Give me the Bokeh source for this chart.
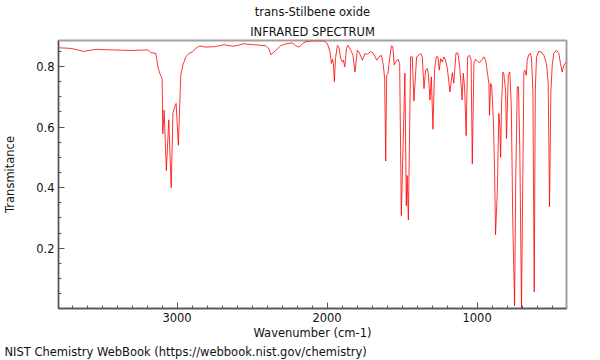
from bokeh.plotting import figure
from bokeh.models import Range1d, FixedTicker, Title
from bokeh.embed import file_html
from bokeh.resources import INLINE

title_name = "trans-Stilbene oxide"
title_kind = "INFRARED SPECTRUM"
x_label = "Wavenumber (cm-1)"
y_label = "Transmitance"
footer = "NIST Chemistry WebBook (https://webbook.nist.gov/chemistry)"

x_major = [1000, 2000, 3000]
y_major = [0.2, 0.4, 0.6, 0.8]

wavenumber = [
    3790, 3707, 3621, 3541, 3441, 3308, 3194, 3174, 3141, 3128,
    3115, 3099, 3095, 3086, 3071, 3055, 3039, 3027, 3011, 3006,
    2991, 2975, 2961, 2941, 2921, 2895, 2871, 2848, 2808, 2742,
    2688, 2622, 2555, 2489, 2409, 2389, 2375, 2342, 2309, 2275,
    2232, 2209, 2187, 2164, 2142, 2109, 2056, 2016, 1998, 1980,
    1971, 1964, 1958, 1951, 1944, 1931, 1920, 1909, 1898, 1891,
    1882, 1871, 1860, 1842, 1827, 1814, 1798, 1787, 1765, 1747,
    1731, 1709, 1691, 1669, 1654, 1638, 1625, 1616, 1609, 1603,
    1594, 1583, 1571, 1561, 1553, 1543, 1527, 1516, 1505, 1481,
    1472, 1466, 1458, 1443, 1432, 1421, 1403, 1388, 1376, 1365,
    1354, 1343, 1332, 1325, 1314, 1305, 1294, 1283, 1272, 1261,
    1252, 1243, 1232, 1221, 1210, 1198, 1181, 1165, 1155, 1141,
    1128, 1117, 1108, 1100, 1092, 1083, 1073, 1063, 1050, 1040,
    1032, 1021, 1010, 995, 983, 970, 955, 943, 932, 921,
    917, 910, 903, 892, 883, 877, 865, 855, 848, 843,
    837, 828, 822, 810, 804, 792, 782, 772, 762, 750,
    742, 732, 724, 715, 704, 695, 688, 682, 672, 666,
    655, 644, 637, 628, 619, 612, 604, 588, 572, 555,
    537, 526, 517, 508, 499, 489, 471, 455, 444, 433,
    422, 404,
]

transmittance = [
    0.862, 0.860, 0.850, 0.857, 0.855, 0.853, 0.855, 0.846, 0.843, 0.800,
    0.777, 0.760, 0.578, 0.656, 0.456, 0.624, 0.400, 0.649, 0.672, 0.678,
    0.540, 0.771, 0.805, 0.832, 0.843, 0.849, 0.862, 0.868, 0.864, 0.866,
    0.872, 0.867, 0.875, 0.872, 0.869, 0.860, 0.839, 0.853, 0.869, 0.875,
    0.878, 0.869, 0.864, 0.875, 0.882, 0.884, 0.885, 0.884, 0.876, 0.848,
    0.810, 0.824, 0.810, 0.750, 0.826, 0.870, 0.862, 0.826, 0.815, 0.821,
    0.799, 0.859, 0.870, 0.854, 0.837, 0.782, 0.854, 0.848, 0.821, 0.843,
    0.840, 0.850, 0.843, 0.821, 0.832, 0.837, 0.804, 0.760, 0.488, 0.771,
    0.777, 0.826, 0.868, 0.865, 0.806, 0.815, 0.824, 0.810, 0.308, 0.778,
    0.340, 0.440, 0.293, 0.832, 0.832, 0.686, 0.832, 0.837, 0.843, 0.832,
    0.727, 0.788, 0.793, 0.777, 0.689, 0.766, 0.593, 0.793, 0.832, 0.832,
    0.788, 0.826, 0.815, 0.832, 0.821, 0.793, 0.716, 0.780, 0.745, 0.843,
    0.845, 0.804, 0.748, 0.690, 0.778, 0.730, 0.572, 0.832, 0.837, 0.822,
    0.479, 0.810, 0.824, 0.817, 0.813, 0.821, 0.832, 0.821, 0.782, 0.744,
    0.639, 0.744, 0.738, 0.628, 0.452, 0.245, 0.390, 0.645, 0.600, 0.500,
    0.672, 0.782, 0.777, 0.720, 0.562, 0.771, 0.782, 0.672, 0.287, 0.010,
    0.440, 0.733, 0.733, 0.520, 0.003, 0.440, 0.782, 0.788, 0.771, 0.821,
    0.840, 0.843, 0.826, 0.720, 0.056, 0.720, 0.832, 0.850, 0.848, 0.837,
    0.810, 0.744, 0.337, 0.720, 0.804, 0.843, 0.854, 0.843, 0.810, 0.782,
    0.804, 0.815,
]

FONT = "DejaVu Sans"
FS = "11.5px"

p = figure(width=600, height=360, output_backend="svg", toolbar_location=None,
           x_range=Range1d(3790, 404), y_range=Range1d(0.001, 0.886),
           min_border_left=57, min_border_right=34, min_border_top=40,
           min_border_bottom=52, title=None)
p.background_fill_color = "white"
p.border_fill_color = "white"
p.outline_line_color = "#a0a0a0"
p.outline_line_width = 2
p.xgrid.visible = False
p.ygrid.visible = False

p.line(wavenumber, transmittance, line_color="#ff0000", line_width=1, line_alpha=0.8)

for ax in (p.xaxis[0], p.yaxis[0]):
    ax.axis_line_color = "#555555"
    ax.axis_line_width = 1.3
    ax.major_tick_line_color = "#555555"
    ax.minor_tick_line_color = "#555555"
    ax.major_tick_in = 6
    ax.major_tick_out = 0
    ax.minor_tick_in = 3
    ax.minor_tick_out = 0
    ax.major_label_text_font = FONT
    ax.major_label_text_font_size = FS
    ax.major_label_text_color = "#111111"
    ax.axis_label_text_font = FONT
    ax.axis_label_text_font_size = FS
    ax.axis_label_text_font_style = "normal"
    ax.axis_label_text_color = "#111111"

p.xaxis[0].ticker = FixedTicker(ticks=x_major, minor_ticks=list(range(500, 3800, 100)))
p.yaxis[0].ticker = FixedTicker(ticks=y_major, minor_ticks=[round(0.05 * i, 2) for i in range(1, 18)])
p.xaxis[0].axis_label = x_label
p.yaxis[0].axis_label = y_label
p.xaxis[0].major_label_standoff = 4
p.xaxis[0].axis_label_standoff = 1
p.yaxis[0].major_label_standoff = 4
p.yaxis[0].axis_label_standoff = 16

p.add_layout(Title(text=title_kind, align="center", text_font=FONT, text_font_size=FS,
                   text_font_style="normal", text_color="#111111", standoff=4), "above")
p.add_layout(Title(text=title_name, align="center", text_font=FONT, text_font_size=FS,
                   text_font_style="normal", text_color="#111111", standoff=3), "above")
p.add_layout(Title(text=footer, align="left", offset=-54, text_font=FONT, text_font_size=FS,
                   text_font_style="normal", text_color="#111111", standoff=1), "below")

open("out.html", "w").write(file_html(p, INLINE))
